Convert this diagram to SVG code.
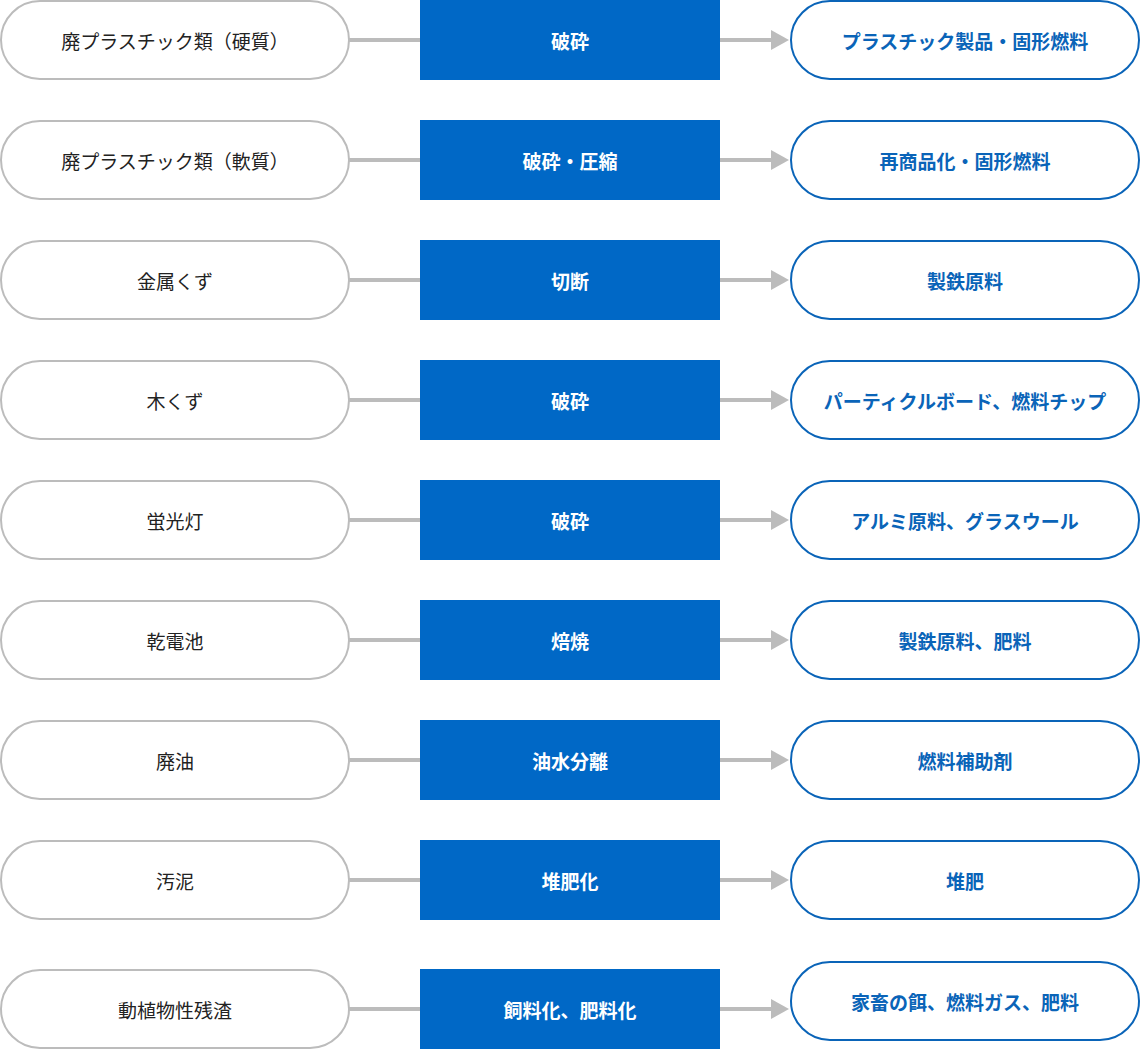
<svg xmlns="http://www.w3.org/2000/svg" width="1140" height="1049" viewBox="0 0 1140 1049">
<style>
text{font-family:"Noto Sans CJK JP","Noto Sans CJK SC",sans-serif;font-size:19px;text-anchor:middle;dominant-baseline:central}
.src rect{fill:#fff;stroke:#bcbcbc;stroke-width:2}
.src text{fill:#222}
.proc rect{fill:#0068c6}
.proc text{fill:#fff;font-weight:bold}
.dst rect{fill:#fff;stroke:#0a64b8;stroke-width:2}
.dst text{fill:#0a64b8;font-weight:bold}
.conn line{stroke:#bcbcbc;stroke-width:4}
.conn polygon{fill:#bcbcbc}
</style>
<rect width="1140" height="1049" fill="#fff"/>
<g id="connectors" class="conn">
<line x1="349" y1="40" x2="420" y2="40"/><line x1="720" y1="40" x2="773" y2="40"/><polygon points="771,30 789,40 771,50"/>
<line x1="349" y1="160" x2="420" y2="160"/><line x1="720" y1="160" x2="773" y2="160"/><polygon points="771,150 789,160 771,170"/>
<line x1="349" y1="280" x2="420" y2="280"/><line x1="720" y1="280" x2="773" y2="280"/><polygon points="771,270 789,280 771,290"/>
<line x1="349" y1="400" x2="420" y2="400"/><line x1="720" y1="400" x2="773" y2="400"/><polygon points="771,390 789,400 771,410"/>
<line x1="349" y1="520" x2="420" y2="520"/><line x1="720" y1="520" x2="773" y2="520"/><polygon points="771,510 789,520 771,530"/>
<line x1="349" y1="640" x2="420" y2="640"/><line x1="720" y1="640" x2="773" y2="640"/><polygon points="771,630 789,640 771,650"/>
<line x1="349" y1="760" x2="420" y2="760"/><line x1="720" y1="760" x2="773" y2="760"/><polygon points="771,750 789,760 771,770"/>
<line x1="349" y1="880" x2="420" y2="880"/><line x1="720" y1="880" x2="773" y2="880"/><polygon points="771,870 789,880 771,890"/>
<line x1="349" y1="1009" x2="420" y2="1009"/><line x1="720" y1="1009" x2="773" y2="1009"/><polygon points="771,999 789,1009 771,1019"/>
</g>
<g id="src1" class="src"><rect x="1" y="1" width="348" height="78" rx="39"/><text x="175" y="40">廃プラスチック類（硬質）</text></g>
<g id="proc1" class="proc"><rect x="420" y="0" width="300" height="80"/><text x="570" y="40">破砕</text></g>
<g id="dst1" class="dst"><rect x="791" y="1" width="348" height="78" rx="39"/><text x="965" y="40">プラスチック製品・固形燃料</text></g>

<g id="src2" class="src"><rect x="1" y="121" width="348" height="78" rx="39"/><text x="175" y="160">廃プラスチック類（軟質）</text></g>
<g id="proc2" class="proc"><rect x="420" y="120" width="300" height="80"/><text x="570" y="160">破砕・圧縮</text></g>
<g id="dst2" class="dst"><rect x="791" y="121" width="348" height="78" rx="39"/><text x="965" y="160">再商品化・固形燃料</text></g>

<g id="src3" class="src"><rect x="1" y="241" width="348" height="78" rx="39"/><text x="175" y="280">金属くず</text></g>
<g id="proc3" class="proc"><rect x="420" y="240" width="300" height="80"/><text x="570" y="280">切断</text></g>
<g id="dst3" class="dst"><rect x="791" y="241" width="348" height="78" rx="39"/><text x="965" y="280">製鉄原料</text></g>

<g id="src4" class="src"><rect x="1" y="361" width="348" height="78" rx="39"/><text x="175" y="400">木くず</text></g>
<g id="proc4" class="proc"><rect x="420" y="360" width="300" height="80"/><text x="570" y="400">破砕</text></g>
<g id="dst4" class="dst"><rect x="791" y="361" width="348" height="78" rx="39"/><text x="965" y="400">パーティクルボード、燃料チップ</text></g>

<g id="src5" class="src"><rect x="1" y="481" width="348" height="78" rx="39"/><text x="175" y="520">蛍光灯</text></g>
<g id="proc5" class="proc"><rect x="420" y="480" width="300" height="80"/><text x="570" y="520">破砕</text></g>
<g id="dst5" class="dst"><rect x="791" y="481" width="348" height="78" rx="39"/><text x="965" y="520">アルミ原料、グラスウール</text></g>

<g id="src6" class="src"><rect x="1" y="601" width="348" height="78" rx="39"/><text x="175" y="640">乾電池</text></g>
<g id="proc6" class="proc"><rect x="420" y="600" width="300" height="80"/><text x="570" y="640">焙焼</text></g>
<g id="dst6" class="dst"><rect x="791" y="601" width="348" height="78" rx="39"/><text x="965" y="640">製鉄原料、肥料</text></g>

<g id="src7" class="src"><rect x="1" y="721" width="348" height="78" rx="39"/><text x="175" y="760">廃油</text></g>
<g id="proc7" class="proc"><rect x="420" y="720" width="300" height="80"/><text x="570" y="760">油水分離</text></g>
<g id="dst7" class="dst"><rect x="791" y="721" width="348" height="78" rx="39"/><text x="965" y="760">燃料補助剤</text></g>

<g id="src8" class="src"><rect x="1" y="841" width="348" height="78" rx="39"/><text x="175" y="880">汚泥</text></g>
<g id="proc8" class="proc"><rect x="420" y="840" width="300" height="80"/><text x="570" y="880">堆肥化</text></g>
<g id="dst8" class="dst"><rect x="791" y="841" width="348" height="78" rx="39"/><text x="965" y="880">堆肥</text></g>

<g id="src9" class="src"><rect x="1" y="970" width="348" height="78" rx="39"/><text x="175" y="1009">動植物性残渣</text></g>
<g id="proc9" class="proc"><rect x="420" y="969" width="300" height="80"/><text x="570" y="1009">飼料化、肥料化</text></g>
<g id="dst9" class="dst"><rect x="791" y="962" width="348" height="78" rx="39"/><text x="965" y="1001">家畜の餌、燃料ガス、肥料</text></g>
</svg>
